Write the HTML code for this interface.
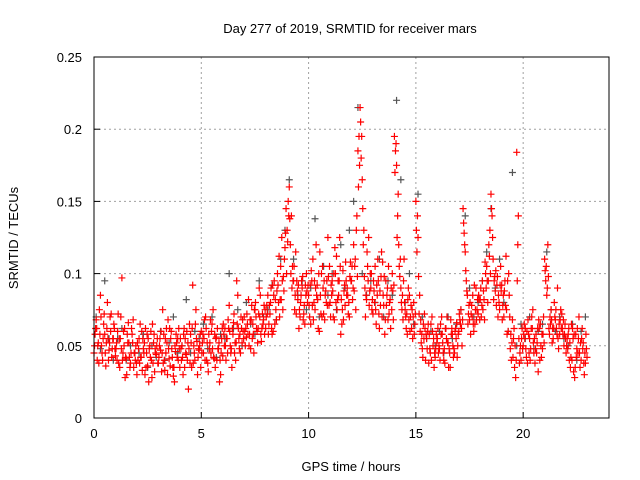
<!DOCTYPE html>
<html><head><meta charset="utf-8"><style>
body{margin:0;background:#fff}
svg{display:block;font-family:"Liberation Sans",sans-serif}
</style></head><body>
<svg id="chart" width="640" height="480" viewBox="0 0 640 480">
<rect width="640" height="480" fill="#fff"/>
<text x="350" y="33" font-size="13" text-anchor="middle">Day 277 of 2019, SRMTID for receiver mars</text>
<text x="18" y="238" font-size="13" text-anchor="middle" transform="rotate(-90 18 238)">SRMTID / TECUs</text>
<text x="351" y="471" font-size="13" text-anchor="middle">GPS time / hours</text>
<g id="grid"></g>
<g id="ticks"></g>
<g id="gray"></g>
<g id="red"></g>
<rect x="94" y="57" width="515" height="361" fill="none" stroke="#000" stroke-width="1"/>
</svg>
<script>
const xTicks=[0,5,10,15,20];
const yTicks=[0,0.05,0.1,0.15,0.2,0.25];
const yTickLabels=["0","0.05","0.1","0.15","0.2","0.25"];
const redAStart=0, redBStart=0.05, redCStart=0.025, redDStart=0.075, grayStart=0.1;
const redAStep=0.1, redBStep=0.1, redCStep=0.1, redDStep=0.1, grayStep=0.2;
const redA=[
.045,.068,.052,.085,.040,.058,.062,.047,.072,.055,
.043,.060,.035,.097,.050,.041,.066,.038,.052,.045,
.030,.055,.042,.048,.062,.036,.050,.028,.058,.044,
.038,.047,.075,.033,.052,.041,.060,.029,.046,.055,
.035,.050,.062,.044,.020,.058,.092,.040,.053,.047,
.060,.045,.070,.038,.052,.065,.041,.056,.048,.030,
.043,.062,.055,.078,.048,.066,.040,.085,.058,.052,
.070,.056,.082,.048,.065,.075,.060,.090,.053,.068,
.062,.085,.072,.058,.095,.068,.080,.105,.075,.118,
.130,.160,.140,.095,.115,.082,.070,.090,.078,.100,
.085,.065,.110,.075,.092,.060,.100,.072,.088,.125,
.080,.095,.068,.112,.085,.058,.102,.078,.090,.070,
.095,.120,.075,.185,.215,.165,.098,.082,.125,.090,
.072,.105,.085,.062,.115,.078,.095,.068,.082,.100,
.195,.175,.120,.090,.068,.075,.058,.085,.062,.080,
.150,.125,.060,.048,.072,.055,.038,.065,.050,.042,
.055,.048,.070,.040,.062,.052,.035,.058,.045,.066,
.060,.075,.145,.115,.085,.068,.078,.060,.090,.072,
.082,.095,.068,.105,.120,.155,.110,.088,.098,.075,
.092,.070,.112,.060,.048,.068,.035,.184,.055,.040,
.050,.062,.038,.055,.070,.045,.058,.032,.065,.048,
.110,.085,.062,.075,.055,.068,.090,.058,.072,.050,
.045,.058,.035,.062,.028,.048,.070,.040,.052,.038];
const redB=[
.058,.040,.075,.050,.065,.036,.055,.070,.048,.062,
.052,.038,.070,.045,.028,.058,.042,.062,.035,.050,
.040,.065,.033,.052,.045,.025,.060,.038,.048,.055,
.050,.032,.058,.045,.068,.036,.042,.025,.052,.062,
.048,.030,.055,.040,.065,.035,.050,.075,.042,.058,
.052,.068,.040,.058,.045,.075,.035,.062,.025,.055,
.058,.040,.068,.050,.062,.045,.095,.055,.070,.060,
.050,.065,.058,.078,.045,.070,.062,.085,.072,.058,
.078,.065,.090,.060,.082,.100,.070,.125,.088,.145,
.150,.120,.105,.075,.095,.062,.085,.068,.092,.080,
.070,.095,.080,.120,.062,.085,.105,.068,.095,.078,
.092,.070,.100,.082,.125,.065,.088,.095,.072,.108,
.082,.105,.140,.195,.180,.120,.070,.105,.088,.075,
.088,.065,.095,.078,.108,.058,.085,.072,.090,.068,
.185,.140,.098,.075,.110,.062,.090,.070,.055,.065,
.115,.072,.052,.065,.040,.060,.048,.070,.035,.058,
.045,.065,.052,.038,.070,.048,.058,.042,.062,.050,
.068,.050,.128,.095,.072,.058,.085,.065,.075,.082,
.070,.088,.100,.080,.130,.140,.095,.078,.085,.105,
.078,.095,.058,.085,.040,.055,.028,.120,.045,.062,
.065,.042,.058,.048,.075,.038,.052,.062,.042,.070,
.095,.120,.070,.052,.080,.062,.048,.075,.058,.065,
.055,.040,.065,.032,.058,.045,.035,.062,.030,.048];
const redC=[
.050,.062,.038,.070,.055,.045,.080,.052,.042,.065,
.048,.072,.055,.040,.062,.030,.052,.045,.068,.040,
.052,.038,.060,.045,.035,.055,.042,.065,.032,.050,
.042,.060,.038,.055,.030,.062,.048,.035,.058,.040,
.055,.042,.035,.060,.048,.052,.038,.065,.030,.050,
.045,.055,.062,.032,.068,.048,.058,.040,.052,.045,
.065,.050,.045,.060,.035,.072,.052,.062,.045,.068,
.060,.072,.050,.068,.058,.080,.052,.070,.062,.078,
.070,.058,.080,.092,.065,.088,.112,.082,.098,.128,
.122,.138,.090,.105,.072,.092,.080,.098,.065,.088,
.078,.102,.068,.090,.082,.115,.070,.095,.080,.098,
.070,.088,.118,.075,.095,.082,.068,.108,.085,.098,
.105,.088,.130,.160,.205,.145,.090,.115,.078,.100,
.095,.075,.110,.088,.070,.098,.078,.105,.062,.088,
.170,.125,.105,.080,.095,.070,.082,.060,.075,.058,
.130,.098,.068,.042,.062,.048,.058,.040,.055,.048,
.062,.040,.058,.048,.055,.035,.068,.050,.060,.042,
.072,.062,.135,.102,.065,.080,.070,.092,.068,.085,
.090,.075,.108,.095,.112,.145,.082,.102,.070,.092,
.068,.088,.075,.100,.058,.042,.050,.095,.038,.055,
.058,.048,.068,.040,.062,.055,.045,.068,.050,.058,
.102,.090,.058,.068,.062,.075,.055,.068,.062,.058,
.050,.062,.042,.055,.035,.062,.045,.055,.038,.058];
const redD=[
.062,.050,.058,.045,.072,.052,.040,.060,.055,.048,
.040,.055,.048,.060,.042,.052,.035,.058,.045,.038,
.048,.042,.055,.030,.058,.048,.040,.052,.045,.038,
.055,.045,.040,.062,.048,.055,.035,.050,.042,.048,
.040,.058,.045,.052,.038,.062,.045,.055,.048,.035,
.058,.040,.052,.048,.060,.042,.055,.048,.040,.062,
.050,.055,.062,.045,.058,.052,.065,.048,.062,.055,
.062,.058,.068,.055,.075,.062,.072,.058,.065,.075,
.072,.078,.062,.085,.075,.092,.082,.095,.110,.100,
.140,.100,.095,.085,.088,.075,.095,.072,.085,.092,
.092,.078,.095,.085,.100,.072,.090,.085,.078,.105,
.085,.100,.080,.095,.105,.075,.092,.085,.080,.095,
.090,.110,.098,.175,.195,.130,.085,.095,.100,.082,
.080,.092,.072,.098,.085,.068,.090,.080,.075,.092,
.190,.155,.110,.085,.080,.072,.068,.078,.070,.072,
.140,.085,.058,.055,.058,.065,.045,.060,.045,.052,
.050,.058,.045,.062,.052,.045,.062,.048,.055,.058,
.065,.068,.120,.088,.078,.072,.065,.075,.082,.068,
.078,.082,.090,.095,.100,.125,.098,.092,.080,.088,
.085,.078,.095,.070,.052,.062,.040,.140,.050,.048,
.055,.060,.045,.062,.052,.048,.062,.040,.058,.052,
.105,.098,.065,.062,.070,.058,.065,.062,.068,.055,
.048,.052,.040,.058,.042,.055,.052,.048,.045,.042];
const grayVals=[
.070,.048,.095,.055,.040,.055,.062,.040,.050,.045,
.045,.058,.035,.050,.042,.060,.040,.052,.070,.045,
.050,.082,.045,.060,.055,.065,.048,.070,.042,.058,
.055,.100,.062,.075,.050,.080,.065,.058,.095,.070,
.075,.092,.068,.110,.130,.165,.110,.085,.095,.075,
.090,.138,.070,.105,.085,.100,.075,.120,.090,.130,
.150,.215,.100,.085,.095,.080,.110,.070,.095,.085,
.220,.165,.080,.100,.065,.155,.070,.055,.060,.050,
.060,.045,.070,.055,.065,.075,.140,.090,.070,.080,
.095,.115,.145,.090,.110,.080,.060,.170,.050,.065,
.055,.070,.048,.060,.065,.115,.075,.060,.070,.055,
.050,.065,.040,.060,.070];
const X0=94,X1=609,Y0=418,Y1=57,XMAX=24,YMAX=0.25;
function sx(t){return X0+(t/XMAX)*(X1-X0);}
function sy(v){return Y0-(v/YMAX)*(Y0-Y1);}
const NS="http://www.w3.org/2000/svg";
const grid=document.getElementById('grid'),ticks=document.getElementById('ticks');
function mk(tag,attrs,parent){const e=document.createElementNS(NS,tag);for(const k in attrs)e.setAttribute(k,attrs[k]);parent.appendChild(e);return e;}
xTicks.forEach(t=>{
  const x=sx(t);
  if(t>0){const g=mk('line',{x1:x,y1:Y1,x2:x,y2:Y0,stroke:'#a0a0a0','stroke-dasharray':'2,3'},grid);
  
  }
  const tk=mk('line',{x1:x,y1:Y0,x2:x,y2:Y0-6,stroke:'#000'},ticks);
  
  
  const tx=mk('text',{x:x,y:Y0+20,'font-size':13,'text-anchor':'middle'},ticks);
  tx.textContent=String(t);
  
  
});
yTicks.forEach((v,i)=>{
  const y=sy(v);
  if(v>0&&v<YMAX){const g=mk('line',{x1:X0,y1:y,x2:X1,y2:y,stroke:'#a0a0a0','stroke-dasharray':'2,3'},grid);
  
  }
  const tk=mk('line',{x1:X0,y1:y,x2:X0+6,y2:y,stroke:'#000'},ticks);
  
  
  const tx=mk('text',{x:X0-12,y:y+5,'font-size':13,'text-anchor':'end'},ticks);
  tx.textContent=yTickLabels[i];
  
  
});
function plot(vals,start,step,color,gid,name){
  const g=document.getElementById(gid);
  vals.forEach((v,i)=>{
    const x=sx(start+i*step),y=sy(v);
    const p=mk('path',{d:`M${x-3.5},${y}H${x+3.5}M${x},${y-3.5}V${y+3.5}`,stroke:color,'stroke-width':1.2,fill:'none'},g);
    
    
  });
}
plot(grayVals,grayStart,grayStep,'#555','gray','gray-point');
plot(redA,redAStart,redAStep,'#ff0000','red','red-point');
plot(redB,redBStart,redBStep,'#ff0000','red','red-point');
plot(redC,redCStart,redCStep,'#ff0000','red','red-point');
plot(redD,redDStart,redDStep,'#ff0000','red','red-point');
</script>
</body></html>
